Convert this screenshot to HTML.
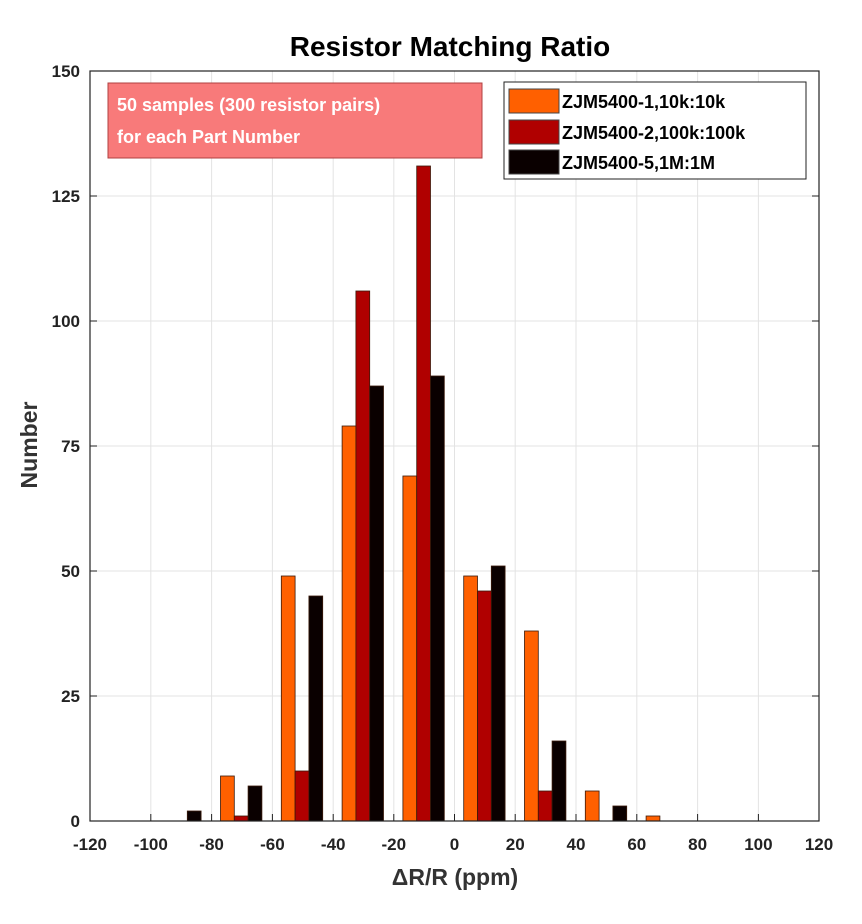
<!DOCTYPE html>
<html><head><meta charset="utf-8"><style>
body{margin:0;background:#fff;}
svg text{font-family:"Liberation Sans",Arial,sans-serif;font-weight:bold;}
</style></head><body>
<svg width="862" height="919" viewBox="0 0 862 919" xmlns="http://www.w3.org/2000/svg">
<rect width="862" height="919" fill="#fff"/>
<g stroke="#e3e3e3" stroke-width="1">
<line x1="150.8" y1="71" x2="150.8" y2="821"/><line x1="211.6" y1="71" x2="211.6" y2="821"/>
<line x1="272.4" y1="71" x2="272.4" y2="821"/><line x1="333.2" y1="71" x2="333.2" y2="821"/>
<line x1="393.8" y1="71" x2="393.8" y2="821"/><line x1="454.5" y1="71" x2="454.5" y2="821"/>
<line x1="515.2" y1="71" x2="515.2" y2="821"/><line x1="576" y1="71" x2="576" y2="821"/>
<line x1="636.8" y1="71" x2="636.8" y2="821"/><line x1="697.6" y1="71" x2="697.6" y2="821"/>
<line x1="758.4" y1="71" x2="758.4" y2="821"/>
<line x1="90" y1="196" x2="819" y2="196"/><line x1="90" y1="321" x2="819" y2="321"/>
<line x1="90" y1="446" x2="819" y2="446"/><line x1="90" y1="571" x2="819" y2="571"/>
<line x1="90" y1="696" x2="819" y2="696"/>
</g>
<g stroke="#3a1a0a" stroke-width="0.8">
<g fill="#ff6000">
<rect x="220.5" y="776" width="13.8" height="45"/><rect x="281.3" y="576" width="13.8" height="245"/>
<rect x="342.1" y="426" width="13.8" height="395"/><rect x="402.9" y="476" width="13.8" height="345"/>
<rect x="463.7" y="576" width="13.8" height="245"/><rect x="524.5" y="631" width="13.8" height="190"/>
<rect x="585.3" y="791" width="13.8" height="30"/><rect x="646.1" y="816" width="13.8" height="5"/>
</g>
<g fill="#b00000">
<rect x="234.3" y="816" width="13.8" height="5"/><rect x="295.1" y="771" width="13.8" height="50"/>
<rect x="355.9" y="291" width="13.8" height="530"/><rect x="416.7" y="166" width="13.8" height="655"/>
<rect x="477.5" y="591" width="13.8" height="230"/><rect x="538.3" y="791" width="13.8" height="30"/>
</g>
<g fill="#0a0000">
<rect x="187.3" y="811" width="13.8" height="10"/><rect x="248.1" y="786" width="13.8" height="35"/>
<rect x="308.9" y="596" width="13.8" height="225"/><rect x="369.7" y="386" width="13.8" height="435"/>
<rect x="430.5" y="376" width="13.8" height="445"/><rect x="491.3" y="566" width="13.8" height="255"/>
<rect x="552.1" y="741" width="13.8" height="80"/><rect x="612.9" y="806" width="13.8" height="15"/>
</g>
</g>
<rect x="90" y="71" width="729" height="750" fill="none" stroke="#222" stroke-width="1.2"/>
<g stroke="#222" stroke-width="1">
<line x1="150.8" y1="821" x2="150.8" y2="814"/><line x1="211.6" y1="821" x2="211.6" y2="814"/>
<line x1="272.4" y1="821" x2="272.4" y2="814"/><line x1="333.2" y1="821" x2="333.2" y2="814"/>
<line x1="393.8" y1="821" x2="393.8" y2="814"/><line x1="454.5" y1="821" x2="454.5" y2="814"/>
<line x1="515.2" y1="821" x2="515.2" y2="814"/><line x1="576" y1="821" x2="576" y2="814"/>
<line x1="636.8" y1="821" x2="636.8" y2="814"/><line x1="697.6" y1="821" x2="697.6" y2="814"/>
<line x1="758.4" y1="821" x2="758.4" y2="814"/>
<line x1="90" y1="196" x2="97" y2="196"/><line x1="90" y1="321" x2="97" y2="321"/>
<line x1="90" y1="446" x2="97" y2="446"/><line x1="90" y1="571" x2="97" y2="571"/><line x1="90" y1="696" x2="97" y2="696"/>
<line x1="812" y1="196" x2="819" y2="196"/><line x1="812" y1="321" x2="819" y2="321"/>
<line x1="812" y1="446" x2="819" y2="446"/><line x1="812" y1="571" x2="819" y2="571"/><line x1="812" y1="696" x2="819" y2="696"/>
</g>
<g font-size="17" fill="#222" text-anchor="middle">
<text x="90" y="850">-120</text><text x="150.8" y="850">-100</text><text x="211.6" y="850">-80</text>
<text x="272.4" y="850">-60</text><text x="333.2" y="850">-40</text><text x="393.8" y="850">-20</text>
<text x="454.5" y="850">0</text><text x="515.2" y="850">20</text><text x="576" y="850">40</text>
<text x="636.8" y="850">60</text><text x="697.6" y="850">80</text><text x="758.4" y="850">100</text><text x="819" y="850">120</text>
</g>
<g font-size="17" fill="#222" text-anchor="end">
<text x="80" y="77">150</text><text x="80" y="202">125</text><text x="80" y="327">100</text>
<text x="80" y="452">75</text><text x="80" y="577">50</text><text x="80" y="702">25</text><text x="80" y="827">0</text>
</g>
<text x="450" y="56" font-size="28" text-anchor="middle" fill="#000">Resistor Matching Ratio</text>
<text x="455" y="885" font-size="23" text-anchor="middle" fill="#333">ΔR/R (ppm)</text>
<text transform="translate(37,445) rotate(-90)" font-size="23" text-anchor="middle" fill="#333">Number</text>
<rect x="108" y="83" width="374" height="75" fill="#f87a7a" stroke="#b04040" stroke-width="1"/>
<text x="117" y="111" font-size="18" fill="#fff">50 samples (300 resistor pairs)</text>
<text x="117" y="143" font-size="18" fill="#fff">for each Part Number</text>
<rect x="504" y="82" width="302" height="97" fill="#fff" stroke="#222" stroke-width="1"/>
<rect x="509" y="89" width="50" height="24" fill="#ff6000" stroke="#444"/>
<rect x="509" y="120" width="50" height="24" fill="#b00000" stroke="#444"/>
<rect x="509" y="150" width="50" height="24" fill="#0a0000" stroke="#444"/>
<g font-size="18" fill="#000">
<text x="562" y="108">ZJM5400-1,10k:10k</text>
<text x="562" y="139">ZJM5400-2,100k:100k</text>
<text x="562" y="169">ZJM5400-5,1M:1M</text>
</g>
</svg>
</body></html>
